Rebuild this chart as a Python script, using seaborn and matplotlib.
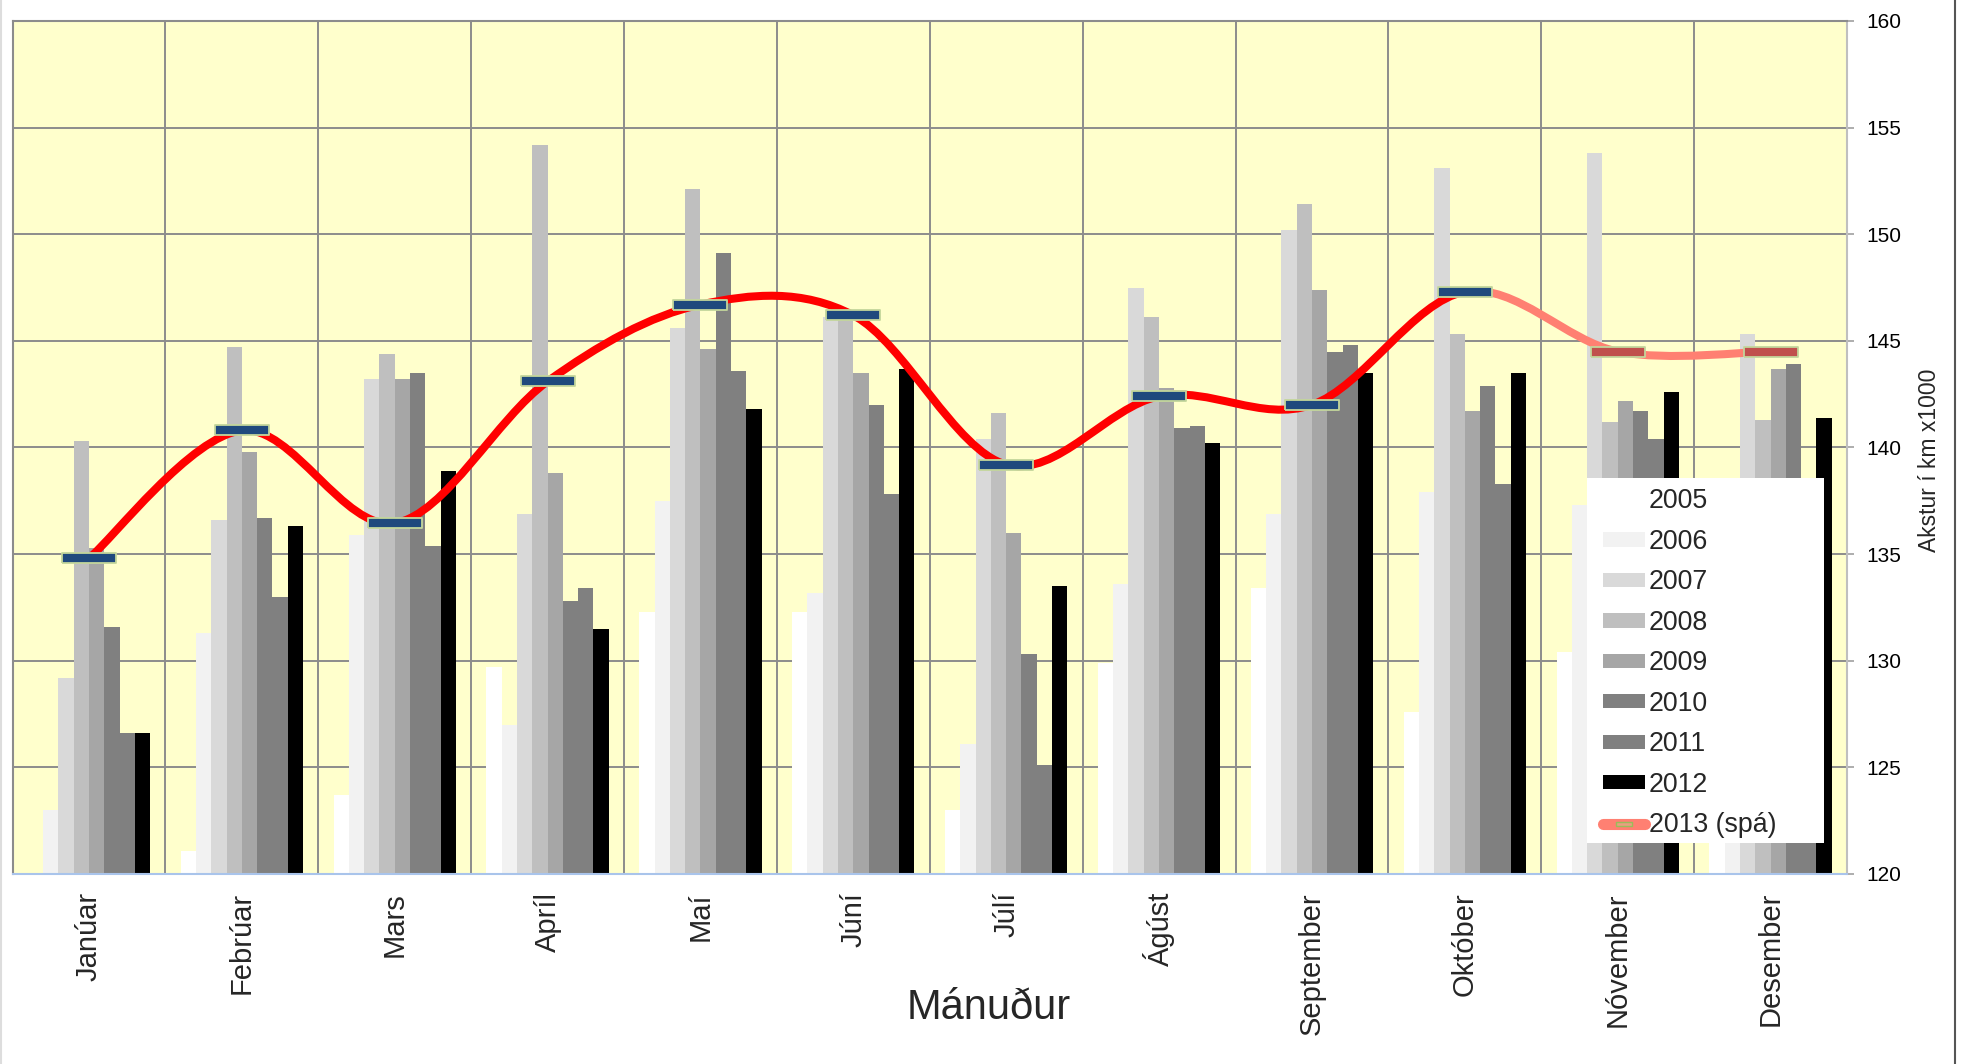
import numpy as np
import pandas as pd
import matplotlib
matplotlib.use("Agg")
import matplotlib.pyplot as plt
import seaborn as sns
from matplotlib.path import Path
from matplotlib.patches import PathPatch, Patch, Rectangle
from matplotlib.lines import Line2D
from matplotlib.ticker import MultipleLocator, FixedLocator

# Data (akstur i km x1000)
months = ["Janúar", "Febrúar", "Mars", "Apríl", "Maí", "Júní", "Júlí",
          "Ágúst", "September", "Október", "Nóvember", "Desember"]
years = ["2005", "2006", "2007", "2008", "2009", "2010", "2011", "2012"]

y2005 = [np.nan, 121.1, 123.7, 129.7, 132.3, 132.3, 123.0, 129.9, 133.4, 127.6, 130.4, 129.0]
y2006 = [123.0, 131.3, 135.9, 127.0, 137.5, 133.2, 126.1, 133.6, 136.9, 137.9, 137.3, 136.5]
y2007 = [129.2, 136.6, 143.2, 136.9, 145.6, 146.1, 140.4, 147.5, 150.2, 153.1, 153.8, 145.3]
y2008 = [140.3, 144.7, 144.4, 154.2, 152.1, 146.0, 141.6, 146.1, 151.4, 145.3, 141.2, 141.3]
y2009 = [135.3, 139.8, 143.2, 138.8, 144.6, 143.5, 136.0, 142.8, 147.4, 141.7, 142.2, 143.7]
y2010 = [131.6, 136.7, 143.5, 132.8, 149.1, 142.0, 130.3, 140.9, 144.5, 142.9, 141.7, 143.9]
y2011 = [126.6, 133.0, 135.4, 133.4, 143.6, 137.8, 125.1, 141.0, 144.8, 138.3, 140.4, 138.5]
y2012 = [126.6, 136.3, 138.9, 131.5, 141.8, 143.7, 133.5, 140.2, 143.5, 143.5, 142.6, 141.4]

# 2013: actual Jan-Okt, forecast (spá) Nov-Des
y2013 = [134.8, 140.8, 136.45, 143.1, 146.7, 146.2, 139.2, 142.4, 142.0, 147.3]
y2013_spa = [144.5, 144.5]

bar_colors = ["#FFFFFF", "#F2F2F2", "#D9D9D9", "#BFBFBF", "#A6A6A6",
              "#808080", "#808080", "#000000"]

series = [y2005, y2006, y2007, y2008, y2009, y2010, y2011, y2012]
df = pd.DataFrame({
    "month": np.tile(months, len(years)),
    "year": np.repeat(years, len(months)),
    "value": np.concatenate(series),
})

sns.set_theme(style="white")
plt.rcParams["font.family"] = ["Liberation Sans", "DejaVu Sans"]

fig = plt.figure(figsize=(19.63, 10.64), dpi=100)
ax = fig.add_axes([12.5 / 1963, 1 - 874 / 1064, (1847 - 12.5) / 1963, (874 - 21) / 1064])
ax.set_facecolor("#FFFFCC")

sns.barplot(data=df, x="month", y="value", hue="year", order=months,
            hue_order=years, palette=bar_colors, width=0.8, saturation=1,
            errorbar=None, legend=False, linewidth=0, ax=ax)


def smooth_segments(xs, ys):
    # Excel-like smoothed line: one cubic Bezier per segment
    pts = np.column_stack([xs, ys]).astype(float)
    n = len(pts)
    segs = []
    for i in range(n - 1):
        p0 = pts[max(i - 1, 0)]
        p1 = pts[i]
        p2 = pts[i + 1]
        p3 = pts[min(i + 2, n - 1)]
        verts = [p1, p1 + (p2 - p0) / 6, p2 - (p3 - p1) / 6, p2]
        segs.append(Path(verts, [Path.MOVETO] + [Path.CURVE4] * 3))
    return segs


line_y = y2013 + y2013_spa
line_x = np.arange(len(line_y))
n_act = len(y2013)
for i, seg in enumerate(smooth_segments(line_x, line_y)):
    col = "#FF0000" if i < n_act - 1 else "#FF8072"
    ax.add_patch(PathPatch(seg, fill=False, ec=col, lw=5.8, zorder=4,
                           capstyle="butt"))

rect = [(-1, -0.2), (1, -0.2), (1, 0.2), (-1, 0.2), (-1, -0.2)]
ax.plot(line_x[:n_act], y2013, ls="none", marker=rect, markersize=39,
        mfc="#1F497D", mec="#C3D69B", mew=1.3, zorder=5)
ax.plot(line_x[n_act:], y2013_spa, ls="none", marker=rect, markersize=39,
        mfc="#C0504D", mec="#C3D69B", mew=1.3, zorder=5)

# axes and grid
ax.set_xlim(-0.5, 11.5)
ax.set_ylim(120, 160)
ax.yaxis.set_major_locator(MultipleLocator(5))
ax.xaxis.set_minor_locator(FixedLocator(np.arange(-0.5, 12, 1)))
ax.set_axisbelow(True)
ax.grid(False)
ax.grid(True, axis="y", which="major", color="#8C8C8C", lw=1.4)
ax.grid(True, axis="x", which="minor", color="#8C8C8C", lw=1.4)

ax.yaxis.tick_right()
ax.tick_params(axis="y", which="major", direction="out", length=5, width=1.2,
               color="#A0A0A0", pad=9, labelsize=15, labelcolor="black",
               right=True, left=False)
ax.tick_params(axis="x", which="both", length=0, pad=13, labelsize=21)
plt.setp(ax.get_xticklabels(), rotation=90, va="top", ha="center")
ax.set_xlabel("")
ax.set_ylabel("")

for side, col in [("left", "#8C8C8C"), ("top", "#8C8C8C"),
                  ("right", "#BFBFBF"), ("bottom", "#A9C4EB")]:
    ax.spines[side].set_visible(True)
    ax.spines[side].set_color(col)
    ax.spines[side].set_linewidth(1.5)

fig.text(988.7 / 1963, 1 - 1008 / 1064, "Mánuður", fontsize=30,
         ha="center", va="center")
fig.text(1929 / 1963, 1 - 460 / 1064, "Akstur í km x1000", fontsize=16.5,
         rotation=90, ha="center", va="center")

# legend: white box drawn separately, entries placed inside it
ax.add_patch(Rectangle((0.8585, 0.0363), 0.1289, 0.428, transform=ax.transAxes,
                       facecolor="white", edgecolor="none", zorder=8))
handles = [Patch(facecolor=c, edgecolor="none", label=y)
           for c, y in zip(bar_colors, years)]
handles.append(Line2D([], [], color="#FF8072", lw=8, solid_capstyle="round",
                      marker=rect, markersize=11, mfc="#E8A080", mec="#9BBB59",
                      mew=1, label="2013 (spá)"))
leg = ax.legend(handles=handles, loc="upper left",
                bbox_to_anchor=(0.867, 0.452), borderaxespad=0, borderpad=0,
                frameon=False, fontsize=19.3, handlelength=1.57,
                handleheight=0.45, handletextpad=0.15, labelspacing=0.54)
leg.set_zorder(10)

# chart border
fig.add_artist(Line2D([1955 / 1963, 1955 / 1963], [0, 1], color="#555555",
                      lw=1.5, transform=fig.transFigure))
fig.add_artist(Line2D([0.0006, 0.0006], [0, 1], color="#DDDDDD",
                      lw=1.5, transform=fig.transFigure))

fig.savefig("out.png", dpi=100, facecolor="white")
